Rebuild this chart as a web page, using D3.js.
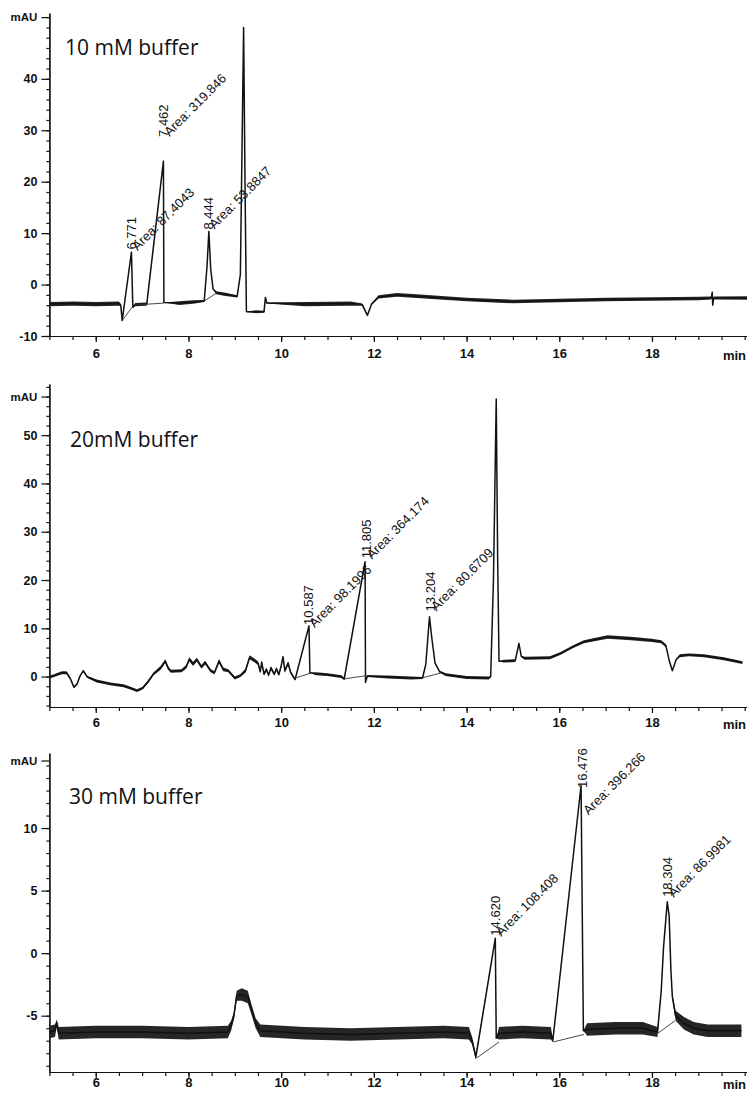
<!DOCTYPE html>
<html lang="en">
<head>
  <meta charset="UTF-8" />
  <title>Chromatograms - buffer concentration</title>
  <script src="https://d3js.org/d3.v7.min.js"></script>
  <style>
    body {
      margin: 0;
      background: #fff;
    }
    svg {
      display: block;
    }
    .axis text {
      font-family: "Liberation Sans", Arial, sans-serif;
      font-weight: bold;
      fill: #111;
    }
    .axis path, .axis line {
      stroke: #111;
      stroke-width: 1.2;
    }
    .peak-label {
      font-family: "Liberation Sans", Arial, sans-serif;
      font-size: 13px;
      fill: #111;
    }
    .panel-title {
      font-family: "Open Sans", sans-serif;
      font-size: 21px;
      fill: #111;
    }
  </style>
</head>
<body>
  <svg id="chart" width="747" height="1097"></svg>
  <script>
    // ---- data ----
    const titles = ['10 mM buffer', '20mM buffer', '30 mM buffer'];
    const xTickLabels = [6, 8, 10, 12, 14, 16, 18];

    // y tick labels per panel
    const yTicks10 = [-10, 0, 10, 20, 30, 40];
    const yTicks20 = [0, 10, 20, 30, 40, 50];
    const yTicks30 = [-5, 0, 5, 10];

    // [time (min), signal (mAU), noise half-width (mAU)]
    const trace10 = [
      [5.00, -3.8, 0.4], [5.50, -3.7, 0.4], [6.00, -3.8, 0.4], [6.50, -3.7, 0.4], [6.54, -4.0, 0.2],
      [6.57, -7.0, 0], [6.77, 6.3, 0], [6.80, -4.4, 0], [6.85, -3.9, 0.3], [7.10, -3.8, 0.3],
      [7.46, 24.0, 0], [7.47, -3.5, 0], [7.80, -3.6, 0.35], [8.10, -3.4, 0.35], [8.34, -3.2, 0.2],
      [8.40, 3.5, 0], [8.44, 10.3, 0], [8.48, 3.0, 0], [8.53, -0.8, 0], [8.60, -1.6, 0.3],
      [8.80, -1.9, 0.3], [9.05, -2.3, 0.2], [9.12, 2.0, 0], [9.19, 50.0, 0], [9.22, 20.0, 0],
      [9.25, -5.3, 0], [9.45, -5.3, 0.3], [9.63, -5.3, 0.2], [9.66, -2.5, 0], [9.69, -3.6, 0.1],
      [10.50, -3.8, 0.4], [11.50, -3.7, 0.4], [11.75, -3.9, 0.2], [11.86, -6.0, 0], [11.95, -3.8, 0.1],
      [12.10, -2.4, 0.3], [12.50, -2.0, 0.35], [13.00, -2.3, 0.35], [14.00, -2.9, 0.35], [15.00, -3.3, 0.35],
      [16.00, -3.1, 0.35], [17.00, -2.9, 0.35], [18.00, -2.8, 0.35], [19.00, -2.7, 0.35], [19.28, -2.6, 0.3],
      [19.30, -1.5, 0], [19.31, -4.0, 0], [19.33, -2.6, 0.3], [20.05, -2.6, 0.35]
    ];

    const trace20 = [
      [5.00, -0.1, 0.3], [5.10, 0.2, 0.3], [5.27, 0.8, 0.3], [5.37, 0.8, 0.3], [5.45, -0.4, 0.2],
      [5.53, -2.2, 0.2], [5.60, -1.5, 0.2], [5.66, 0.1, 0.2], [5.73, 1.2, 0.2], [5.82, -0.1, 0.2],
      [6.02, -0.9, 0.3], [6.31, -1.5, 0.3], [6.60, -1.9, 0.3], [6.75, -2.4, 0.3], [6.89, -2.9, 0.3],
      [7.01, -2.4, 0.3], [7.14, -0.9, 0.3], [7.25, 0.6, 0.3], [7.40, 1.8, 0.4], [7.50, 3.2, 0.4],
      [7.56, 1.8, 0.4], [7.62, 1.1, 0.3], [7.85, 1.2, 0.3], [7.95, 2.0, 0.4], [8.02, 3.6, 0.4],
      [8.10, 2.6, 0.4], [8.18, 3.5, 0.4], [8.28, 2.0, 0.4], [8.36, 2.9, 0.4], [8.48, 1.2, 0.3],
      [8.56, 0.8, 0.3], [8.66, 3.2, 0.4], [8.75, 1.5, 0.4], [8.86, 1.2, 0.3], [9.00, -0.3, 0.3],
      [9.12, 0.2, 0.3], [9.23, 1.2, 0.4], [9.32, 4.0, 0.4], [9.43, 3.3, 0.4], [9.50, 2.8, 0.4],
      [9.55, 1.0, 0.3], [9.58, 3.0, 0.2], [9.63, 0.5, 0.3], [9.68, 1.5, 0.4], [9.73, 0.3, 0.3],
      [9.78, 1.8, 0.4], [9.85, 0.5, 0.3], [9.90, 1.6, 0.4], [9.95, 0.4, 0.3], [10.00, 2.2, 0.4],
      [10.04, 4.1, 0.2], [10.08, 1.2, 0.4], [10.15, 2.8, 0.4], [10.20, 1.0, 0.3], [10.26, 0.0, 0.3],
      [10.30, -0.6, 0.2], [10.60, 10.5, 0], [10.62, 0.8, 0], [10.75, 0.6, 0.3], [11.00, 0.4, 0.3],
      [11.30, 0.0, 0.3], [11.36, -0.5, 0.2], [11.81, 23.8, 0], [11.82, -1.2, 0], [11.86, 0.1, 0.2],
      [12.30, -0.1, 0.3], [12.80, -0.3, 0.3], [13.05, -0.3, 0.2], [13.12, 2.5, 0], [13.20, 12.4, 0],
      [13.25, 8.0, 0], [13.32, 2.8, 0.1], [13.42, 1.0, 0.2], [13.55, 0.4, 0.3], [14.00, -0.2, 0.3],
      [14.48, -0.3, 0.3], [14.52, 0.0, 0.1], [14.58, 20.0, 0], [14.64, 57.5, 0], [14.67, 25.0, 0],
      [14.70, 3.2, 0], [14.80, 3.2, 0.3], [15.05, 3.3, 0.3], [15.10, 5.5, 0.1], [15.13, 6.9, 0],
      [15.18, 4.2, 0.1], [15.25, 3.8, 0.3], [15.80, 3.9, 0.3], [16.03, 4.8, 0.3], [16.30, 6.2, 0.3],
      [16.53, 7.2, 0.3], [17.04, 8.2, 0.35], [17.54, 7.9, 0.35], [18.00, 7.5, 0.35], [18.20, 7.2, 0.3],
      [18.30, 6.4, 0.3], [18.38, 3.0, 0.1], [18.44, 1.2, 0.1], [18.52, 3.5, 0.1], [18.60, 4.3, 0.3],
      [18.80, 4.5, 0.3], [19.12, 4.3, 0.3], [19.55, 3.7, 0.3], [19.95, 2.9, 0.3]
    ];

    const trace30 = [
      [5.00, -6.3, 0.5], [5.12, -6.2, 0.5], [5.16, -5.6, 0.3], [5.20, -6.4, 0.5], [6.00, -6.3, 0.5],
      [7.00, -6.3, 0.5], [8.00, -6.4, 0.5], [8.85, -6.3, 0.5], [8.92, -5.8, 0.4], [8.98, -5.0, 0.3],
      [9.04, -3.4, 0.4], [9.15, -3.3, 0.5], [9.28, -3.5, 0.5], [9.36, -4.5, 0.4], [9.45, -5.6, 0.4],
      [9.55, -6.2, 0.5], [10.50, -6.4, 0.5], [11.50, -6.5, 0.5], [12.50, -6.4, 0.5], [13.50, -6.3, 0.5],
      [14.05, -6.4, 0.5], [14.12, -7.0, 0.3], [14.20, -8.3, 0.2], [14.62, 1.2, 0], [14.64, -6.8, 0],
      [14.70, -6.4, 0.5], [15.20, -6.3, 0.5], [15.82, -6.4, 0.5], [15.86, -7.0, 0.1], [16.47, 13.4, 0],
      [16.52, -6.2, 0], [16.60, -6.1, 0.5], [17.20, -6.0, 0.5], [17.80, -6.0, 0.5], [18.12, -6.3, 0.4],
      [18.20, -3.0, 0], [18.25, 0.5, 0], [18.33, 4.1, 0], [18.37, 3.0, 0], [18.41, -1.5, 0],
      [18.44, -3.5, 0.2], [18.51, -5.0, 0.4], [18.69, -5.6, 0.5], [18.90, -6.0, 0.5], [19.20, -6.2, 0.5],
      [19.93, -6.2, 0.5]
    ];

    // integration baselines drawn by the software
    const base10 = [[[6.57, -7.0], [6.80, -4.2]], [[6.80, -4.0], [7.47, -3.6]], [[8.34, -3.2], [8.60, -1.7]]];
    const base20 = [[[10.28, -0.4], [10.63, 0.7]], [[11.35, -0.5], [11.84, 0.2]], [[13.03, -0.3], [13.43, 0.7]]];
    const base30 = [[[14.21, -8.4], [14.70, -7.1]], [[15.87, -7.1], [16.53, -6.5]], [[18.13, -6.4], [18.50, -5.4]]];

    // peak annotations: retention time label and area label
    const peaks10 = [
      { t: 6.77, v: 6.8, rt: '6.771', areaV: 6.5, area: 'Area: 87.4043' },
      { t: 7.46, v: 28.7, rt: '7.462', areaV: 28.7, area: 'Area: 319.846' },
      { t: 8.43, v: 10.7, rt: '8.444', areaV: 10.7, area: 'Area: 53.8847' }
    ];
    const peaks20 = [
      { t: 10.59, v: 10.7, rt: '10.587', areaV: 10.0, area: 'Area: 98.1996' },
      { t: 11.83, v: 24.5, rt: '11.805', areaV: 24.2, area: 'Area: 364.174' },
      { t: 13.22, v: 13.5, rt: '13.204', areaV: 13.5, area: 'Area: 80.6709' }
    ];
    const peaks30 = [
      { t: 14.62, v: 1.4, rt: '14.620', areaV: 1.3, area: 'Area: 108.408' },
      { t: 16.50, v: 13.2, rt: '16.476', areaV: 11.0, area: 'Area: 396.266' },
      { t: 18.34, v: 4.5, rt: '18.304', areaV: 4.4, area: 'Area: 86.9981' }
    ];

    // ---- layout ----
    const svg = d3.select('#chart');
    const x = d3.scaleLinear().domain([5, 20.05]).range([49.4, 747]);

    const panels = [
      { title: titles[0], trace: trace10, bases: base10, peaks: peaks10, yTicks: yTicks10,
        domain: [-10, 52.8], range: [336, 13], minor: 2, mau: 52, labelPad: 6.5, titleX: 65, titleY: 55 },
      { title: titles[1], trace: trace20, bases: base20, peaks: peaks20, yTicks: yTicks20,
        domain: [-6.3, 60.6], range: [707, 384], minor: 2, mau: 58, labelPad: 4.5, titleX: 70, titleY: 447 },
      { title: titles[2], trace: trace30, bases: base30, peaks: peaks30, yTicks: yTicks30,
        domain: [-9.5, 16], range: [1072, 753], minor: 1, mau: 15.4, labelPad: 0, titleX: 69, titleY: 804 }
    ];

    panels.forEach(p => {
      const y = d3.scaleLinear().domain(p.domain).range(p.range);
      const g = svg.append('g');

      // minor y ticks
      const minorVals = d3.range(Math.ceil(p.domain[0] / p.minor) * p.minor, p.domain[1], p.minor);
      g.append('g')
        .attr('class', 'axis')
        .attr('transform', `translate(${x.range()[0]},0)`)
        .call(d3.axisLeft(y).tickValues(minorVals).tickSize(3).tickFormat('').tickSizeOuter(0));

      // major y ticks + domain line
      g.append('g')
        .attr('class', 'axis')
        .attr('transform', `translate(${x.range()[0]},0)`)
        .call(d3.axisLeft(y).tickValues(p.yTicks.concat([p.mau])).tickSize(8).tickPadding(4).tickSizeOuter(0)
          .tickFormat(d => d === p.mau ? 'mAU' : d))
        .call(a => a.selectAll('text').style('font-size', d => d === p.mau ? '11.5px' : '12.5px'));

      // x axis: minor ticks every 0.5 min, labelled every 2 min
      const xBase = p.range[0];
      g.append('g')
        .attr('class', 'axis')
        .attr('transform', `translate(0,${xBase})`)
        .call(d3.axisBottom(x).tickValues(d3.range(5, 20.01, 0.5)).tickSize(4).tickFormat('').tickSizeOuter(0));
      g.append('g')
        .attr('class', 'axis')
        .attr('transform', `translate(0,${xBase})`)
        .call(d3.axisBottom(x).tickValues(xTickLabels).tickSize(6).tickPadding(p.labelPad).tickSizeOuter(0))
        .call(a => a.select('.domain').remove())
        .call(a => a.selectAll('text').style('font-size', '13px'));
      g.append('text')
        .attr('x', 746)
        .attr('y', xBase + 6 + p.labelPad + 11)
        .attr('text-anchor', 'end')
        .attr('font-family', '"Liberation Sans", Arial, sans-serif')
        .attr('font-weight', 'bold')
        .attr('font-size', '13px')
        .attr('fill', '#111')
        .text('min');

      // noise band + signal line
      const band = d3.area()
        .x(d => x(d[0]))
        .y0(d => y(d[1] - d[2]))
        .y1(d => y(d[1] + d[2]));
      const line = d3.line()
        .x(d => x(d[0]))
        .y(d => y(d[1]));

      g.append('path')
        .datum(p.trace)
        .attr('d', band)
        .attr('fill', '#262626');
      g.append('path')
        .datum(p.trace)
        .attr('d', line)
        .attr('fill', 'none')
        .attr('stroke', '#111')
        .attr('stroke-width', 1.5)
        .attr('stroke-linejoin', 'round');

      // integration baselines
      g.append('g')
        .selectAll('path')
        .data(p.bases)
        .join('path')
        .attr('d', line)
        .attr('fill', 'none')
        .attr('stroke', '#333')
        .attr('stroke-width', 0.9);

      // peak labels
      const lab = g.append('g').selectAll('g')
        .data(p.peaks)
        .join('g');
      lab.append('text')
        .attr('class', 'peak-label')
        .attr('transform', d => `translate(${x(d.t)},${y(d.v)}) rotate(-90)`)
        .attr('dy', '0.35em')
        .text(d => d.rt);
      lab.append('text')
        .attr('class', 'peak-label')
        .attr('transform', d => `translate(${x(d.t) + 6},${y(d.areaV)}) rotate(-45)`)
        .text(d => d.area);

      // panel title
      g.append('text')
        .attr('class', 'panel-title')
        .attr('x', p.titleX)
        .attr('y', p.titleY)
        .text(p.title);
    });
  </script>
</body>
</html>
